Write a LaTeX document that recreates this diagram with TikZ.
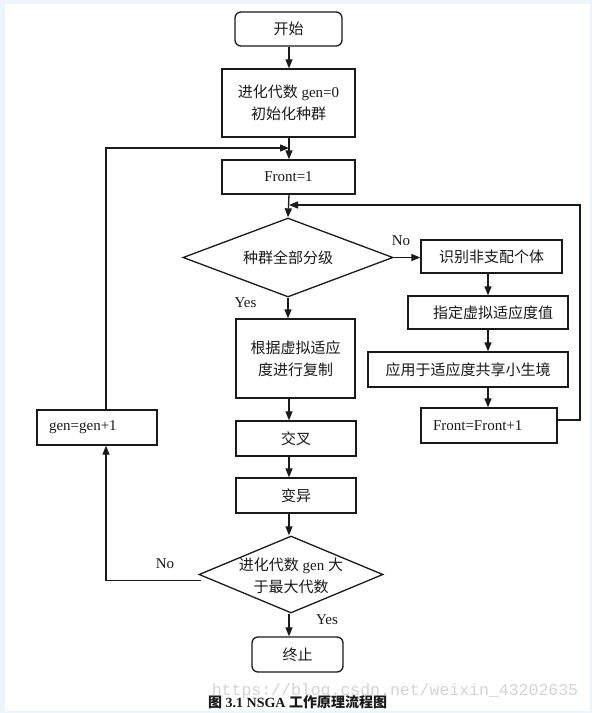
\documentclass[tikz,border=0pt]{standalone}
\usepackage{fontspec}
\setmainfont{Liberation Serif}
\newfontfamily\cjk{Noto Sans CJK SC}
\newfontfamily\wmfont{Liberation Mono}
\usetikzlibrary{arrows.meta,shapes.geometric,calc}
\definecolor{framebg}{HTML}{EEF5FA}
\definecolor{ink}{HTML}{1A1A1A}
\definecolor{wm}{HTML}{D4D4D4}
\tikzset{
  box/.style={draw=ink,line width=1.3pt,minimum height=34pt,inner sep=0pt,font=\fontsize{15}{22}\selectfont,text=ink,align=center},
  rbox/.style={box,rounded corners=6pt},
  lbox/.style={box,align=left,inner xsep=12pt},
  dia/.style={draw=ink,line width=1.3pt,shape=diamond,inner sep=0pt},
  dtext/.style={font=\fontsize{15}{22}\selectfont,text=ink,align=center,inner sep=0pt},
  lab/.style={font=\fontsize{15}{18}\selectfont,text=ink,inner sep=0pt},
  arr/.style={draw=ink,line width=1.3pt,-{Triangle[length=9pt,width=7pt]}},
}
\begin{document}
\begin{tikzpicture}[x=1pt,y=-1pt]
\useasboundingbox (0,0) rectangle (592,713);
\fill[framebg] (0,0) rectangle (592,713);
\fill[white] (5,4) rectangle (590,711);
% axis coordinates
\coordinate (ax) at (289,0);
\coordinate (rax) at (488,0);
% main column
\node[rbox,minimum width=107pt] (start) at (288.5,29) {\cjk 开始};
\node[box,minimum width=133pt,minimum height=68pt] (init) at (288.5,103) {{\cjk 进化代数} gen=0\\{\cjk 初始化种群}};
\node[box,minimum width=133pt] (front1) at (288.5,177) {Front=1};
\node[dia,minimum width=210pt,minimum height=79pt] (d1) at (288,257.5) {};
\node[dtext] (d1t) at (288,257.5) {\cjk 种群全部分级};
\node[box,minimum width=119pt,minimum height=79pt] (rep) at (295.5,358.5) {{\cjk 根据虚拟适应}\\{\cjk 度进行复制}};
\node[box,minimum width=120pt,minimum height=35pt] (cross) at (296,438.5) {\cjk 交叉};
\node[box,minimum width=120pt,minimum height=35pt] (mut) at (296,495.5) {\cjk 变异};
\node[dia,minimum width=184pt,minimum height=77pt] (d2) at (291,574.5) {};
\node[dtext] (d2t) at (291,576) {{\cjk 进化代数} gen {\cjk 大}\\{\cjk 于最大代数}};
\node[rbox,minimum width=91pt,minimum height=35pt] (stop) at (297.5,654.5) {\cjk 终止};
% right column
\node[box,minimum width=141pt,minimum height=33pt] (ident) at (491.5,256.5) {\cjk 识别非支配个体};
\node[box,minimum width=160pt,minimum height=33pt] (assign) at (488,312.5) {\hspace*{10pt}\cjk 指定虚拟适应度值};
\node[box,minimum width=200pt,minimum height=35pt] (apply) at (468,369.5) {\cjk 应用于适应度共享小生境};
\node[lbox,minimum width=136pt,minimum height=35pt,text width=112pt] (finc) at (489,425.5) {Front=Front+1};
% left
\node[lbox,minimum width=120pt,minimum height=35pt,text width=96pt] (gen) at (97,427.5) {gen=gen+1};
% labels
\node[lab] (no1) at (401,241) {No};
\node[lab] (yes1) at (245.5,303) {Yes};
\node[lab] (no2) at (165,564) {No};
\node[lab] (yes2) at (327,620) {Yes};
% coordinates for junctions
\coordinate (j1) at (289,148);
\coordinate (j2) at (289,205);
\coordinate (lc) at (106,148);
\coordinate (rc) at (580,205);
% connectors main
\draw[arr] (start.south -| ax) -- (init.north -| ax);
\draw[arr] (init.south -| ax) -- (front1.north -| ax);
\draw[arr] (front1.south -| ax) -- (d1.north);
\draw[arr] (d1.south) -- (rep.north -| d1.south);
\draw[arr] (rep.south -| ax) -- (cross.north -| ax);
\draw[arr] (cross.south -| ax) -- (mut.north -| ax);
\draw[arr] (mut.south -| ax) -- (d2.north -| ax);
\draw[arr] (d2.south -| ax) -- (stop.north -| ax);
% no branch
\draw[arr] (d1.east) -- (ident.west |- d1.east);
\draw[arr] (ident.south -| rax) -- (assign.north -| rax);
\draw[arr] (assign.south -| rax) -- (apply.north -| rax);
\draw[arr] (apply.south -| rax) -- (finc.north -| rax);
\draw[arr] (finc.east |- 0,420) -- (rc |- 0,420) -- (rc) -- (j2);
% loop back
\draw[arr] ($(d2.west)+(3,6)$) -| (gen.south -| lc);
\draw[arr] (gen.north -| lc) -- (lc) -- (j1);
% caption
\node[font=\fontsize{16.5}{18}\selectfont\wmfont,text=wm,inner sep=0pt] (wmark) at (395,691) {https://blog.csdn.net/weixin\_43202635};
\node[font=\fontsize{14}{16}\selectfont\bfseries,text=ink,inner sep=0pt,anchor=west] (cap) at (208,702) {{\cjk 图} 3.1 NSGA {\cjk 工作原理流程图}};
\end{tikzpicture}
\end{document}
